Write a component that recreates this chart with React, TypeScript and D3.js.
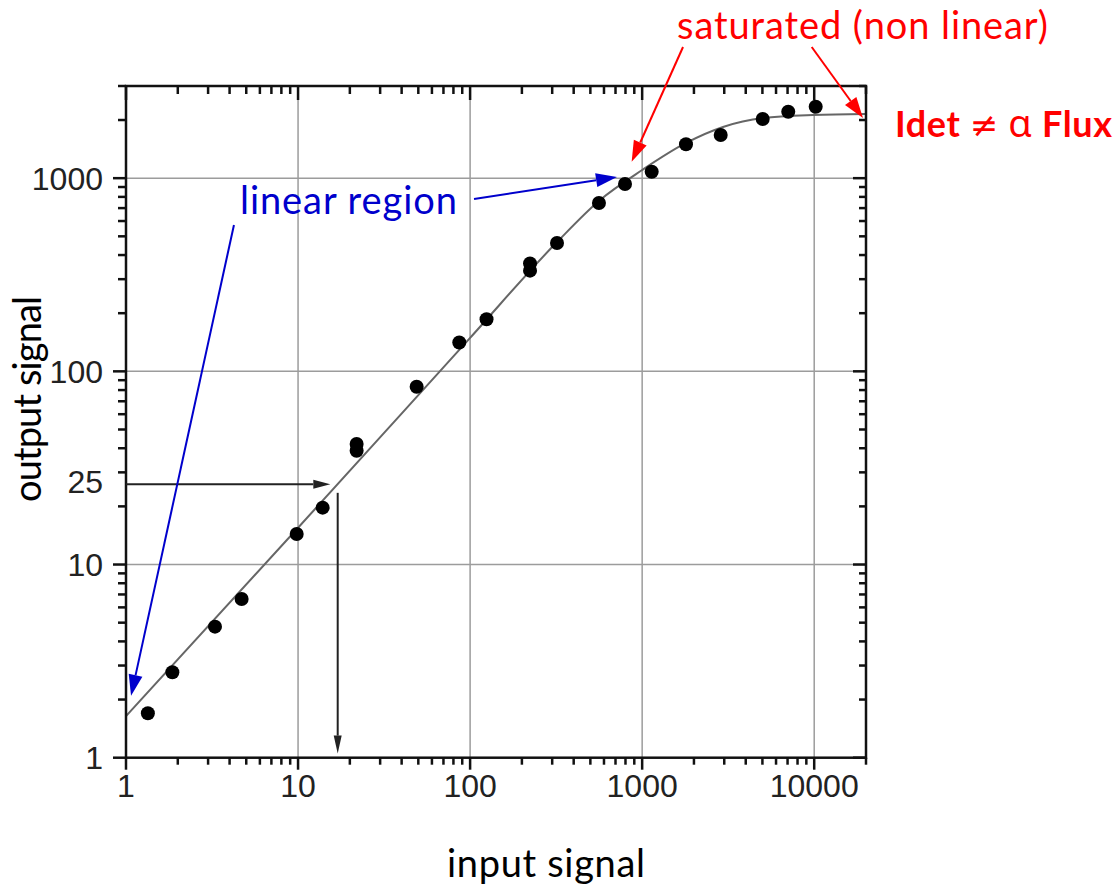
import React, { useEffect, useRef } from 'react';
import * as d3 from 'd3';

// measured points (input signal, output signal)
const inputSignal = [1.34, 1.86, 3.29, 4.7, 9.82, 13.9, 21.9, 21.9, 48.9, 86.5, 124.6, 223, 223, 320, 561, 795, 1136, 1798, 2861, 5020, 7065, 10200];
const outputSignal = [1.7, 2.77, 4.77, 6.63, 14.4, 19.7, 42.1, 38.8, 83.3, 141, 186, 362, 332, 462, 744, 933, 1080, 1497, 1673, 2024, 2208, 2344];

// fitted response curve
const fitInput = [1, 10, 100, 320, 569, 1000, 1798, 2951, 5040, 9840, 20000];
const fitOutput = [1.64, 15.5, 149, 467, 771, 1102, 1521, 1841, 2048, 2123, 2148];

const xMajor = [1, 10, 100, 1000, 10000];
const xTickLabels = ['1', '10', '100', '1000', '10000'];
const yMajor = [1, 10, 100, 1000];
const yLabelValues = [1, 10, 27, 100, 1000];
const yTickLabels = ['1', '10', '25', '100', '1000'];

// annotation arrows, [x0, y0, x1, y1] in data units (tip is x1,y1)
const blueArrows = [
  [4.24, 572, 1.07, 2.09],
  [105.4, 780, 714, 1014],
];
const redArrows = [
  [1728, 4775, 869, 1217],
  [9672, 4775, 19210, 2048],
];
const readLevel = 26;
const readInput = 17;

const W = 1120;
const H = 887;

const App = () => {
  const svgRef = useRef(null);

  useEffect(() => {
    const svg = d3.select(svgRef.current);
    svg.selectAll('*').remove();

    const left = 126, right = 866, top = 86, bottom = 757.7;
    const x = d3.scaleLog().domain([1, 20000]).range([left, right]);
    const y = d3.scaleLog().domain([1, 3000]).range([bottom, top]);

    const minor = (max) => {
      const out = [];
      for (let d = 1; d <= max; d *= 10) {
        for (let k = 2; k <= 9; k++) if (k * d <= max) out.push(k * d);
      }
      return out;
    };
    const xMinor = minor(20000);
    const yMinor = minor(3000);

    // grid
    const grid = svg.append('g').attr('stroke', '#9c9c9c').attr('stroke-width', 1.5);
    xMajor.slice(1).forEach(v => {
      grid.append('line').attr('x1', x(v)).attr('x2', x(v)).attr('y1', top).attr('y2', bottom);
    });
    yMajor.slice(1).forEach(v => {
      grid.append('line').attr('x1', left).attr('x2', right).attr('y1', y(v)).attr('y2', y(v));
    });

    // fitted curve
    const line = d3.line()
      .x(d => x(d[0]))
      .y(d => y(d[1]))
      .curve(d3.curveMonotoneX);
    svg.append('path')
      .attr('d', line(fitInput.map((v, i) => [v, fitOutput[i]])))
      .attr('fill', 'none')
      .attr('stroke', '#666')
      .attr('stroke-width', 2);

    // frame and ticks
    svg.append('rect')
      .attr('x', left).attr('y', top)
      .attr('width', right - left).attr('height', bottom - top)
      .attr('fill', 'none').attr('stroke', '#111').attr('stroke-width', 2.5);

    const ticks = svg.append('g').attr('stroke', '#111').attr('stroke-width', 2.5);
    const tick = (x1, y1, x2, y2) =>
      ticks.append('line').attr('x1', x1).attr('y1', y1).attr('x2', x2).attr('y2', y2);

    xMajor.forEach(v => {
      tick(x(v), bottom, x(v), bottom + 12);
      tick(x(v), top, x(v), top + 14);
    });
    xMinor.forEach(v => {
      tick(x(v), bottom, x(v), bottom + 7);
      tick(x(v), top, x(v), top + 8);
    });
    yMajor.forEach(v => {
      tick(left - 13, y(v), left, y(v));
      tick(right - 13, y(v), right, y(v));
    });
    yMinor.forEach(v => {
      tick(left - 8, y(v), left, y(v));
      tick(right - 7, y(v), right, y(v));
    });

    // tick labels
    const tickFont = "'Liberation Sans', Arial, sans-serif";
    xMajor.forEach((v, i) => {
      svg.append('text')
        .attr('x', x(v)).attr('y', 797)
        .attr('text-anchor', 'middle')
        .attr('font-family', tickFont).attr('font-size', 32)
        .attr('fill', '#222')
        .text(xTickLabels[i]);
    });
    yLabelValues.forEach((v, i) => {
      svg.append('text')
        .attr('x', 103).attr('y', y(v) + 11.5)
        .attr('text-anchor', 'end')
        .attr('font-family', tickFont).attr('font-size', 32)
        .attr('fill', '#222')
        .text(yTickLabels[i]);
    });

    // arrows
    const arrow = (x0, y0, x1, y1, color, len, half, width) => {
      const dx = x1 - x0, dy = y1 - y0;
      const L = Math.hypot(dx, dy);
      const ux = dx / L, uy = dy / L;
      const bx = x1 - ux * len, by = y1 - uy * len;
      svg.append('line')
        .attr('x1', x0).attr('y1', y0).attr('x2', bx).attr('y2', by)
        .attr('stroke', color).attr('stroke-width', width);
      svg.append('polygon')
        .attr('points', [
          [x1, y1],
          [bx - uy * half, by + ux * half],
          [bx + uy * half, by - ux * half],
        ].map(p => p.join(',')).join(' '))
        .attr('fill', color);
    };

    arrow(x(1), y(readLevel), x(15.4), y(readLevel), '#222', 17, 4.5, 2);
    arrow(x(readInput), y(23.5), x(readInput), y(1.05), '#222', 18, 4, 2);

    blueArrows.forEach(a => arrow(x(a[0]), y(a[1]), x(a[2]), y(a[3]), '#0000cc', 21, 7, 2));
    redArrows.forEach(a => arrow(x(a[0]), y(a[1]), x(a[2]), y(a[3]), '#ff0000', 21, 7, 2));

    // data points
    svg.append('g')
      .selectAll('circle')
      .data(inputSignal.map((v, i) => [v, outputSignal[i]]))
      .join('circle')
      .attr('cx', d => x(d[0]))
      .attr('cy', d => y(d[1]))
      .attr('r', 7)
      .attr('fill', '#000');

    // annotation text
    const textFont = "Lato, 'Open Sans', sans-serif";
    svg.append('text')
      .attr('x', 240).attr('y', 214)
      .attr('font-family', textFont).attr('font-size', 38)
      .attr('textLength', 217)
      .attr('fill', '#0000cc')
      .text('linear region');
    svg.append('text')
      .attr('x', 677).attr('y', 39)
      .attr('font-family', textFont).attr('font-size', 38)
      .attr('textLength', 371)
      .attr('fill', '#ff0000')
      .text('saturated (non linear)');

    const idet = svg.append('text')
      .attr('x', 895).attr('y', 137)
      .attr('font-family', textFont).attr('font-size', 36)
      .attr('font-weight', 'bold')
      .attr('textLength', 217)
      .attr('fill', '#ff0000');
    idet.append('tspan').text('Idet ');
    idet.append('tspan').attr('font-family', "'DejaVu Sans', sans-serif").attr('font-weight', 'normal').attr('font-size', 34).text('\u2260');
    idet.append('tspan').text(' ');
    idet.append('tspan').attr('font-family', "'Noto Sans', sans-serif").attr('font-weight', 'normal').attr('font-size', 38).text('\u03b1');
    idet.append('tspan').text(' Flux');

    // axis titles
    svg.append('text')
      .attr('x', 447).attr('y', 877)
      .attr('font-family', textFont).attr('font-size', 38)
      .attr('textLength', 198)
      .attr('fill', '#000')
      .text('input signal');
    svg.append('text')
      .attr('transform', 'translate(41,399) rotate(-90)')
      .attr('text-anchor', 'middle')
      .attr('font-family', textFont).attr('font-size', 38)
      .attr('textLength', 206)
      .attr('fill', '#000')
      .text('output signal');
  }, []);

  return (
    <div style={{ position: 'absolute', left: 0, top: 0, width: W, height: H, background: '#fff' }}>
      <svg ref={svgRef} width={W} height={H} style={{ display: 'block' }} />
    </div>
  );
};

export default App;
